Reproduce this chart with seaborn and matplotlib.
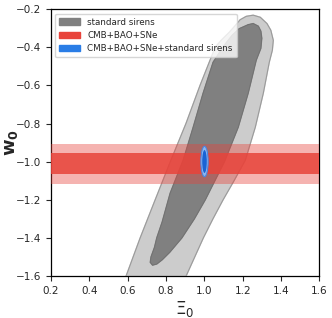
import numpy as np
import seaborn as sns
import matplotlib
matplotlib.use("Agg")
import matplotlib.pyplot as plt
from matplotlib.patches import Ellipse, Patch

# standard sirens contours (Xi0, w0)
ss_2sig_xi = [1.167, 1.187, 1.219, 1.255, 1.292, 1.327, 1.347, 1.360, 1.355, 1.339,
              1.308, 1.266, 1.214, 1.155, 1.098, 1.045, 0.995, 0.950, 0.905, 0.850,
              0.545, 0.592, 0.665, 0.743, 0.822, 0.905, 0.978, 1.057, 1.088, 1.130]
ss_2sig_w0 = [-0.279, -0.255, -0.237, -0.231, -0.242, -0.275, -0.310, -0.363, -0.415, -0.478,
              -0.640, -0.819, -0.992, -1.100, -1.200, -1.300, -1.400, -1.500, -1.600, -1.726,
              -1.726, -1.600, -1.401, -1.202, -1.002, -0.798, -0.599, -0.399, -0.363, -0.321]

ss_1sig_xi = [1.229, 1.255, 1.282, 1.295, 1.300, 1.295, 1.271, 1.229, 1.177, 1.105,
              1.055, 1.005, 0.948, 0.883, 0.820, 0.780, 0.752, 0.730, 0.718, 0.722, 0.740,
              0.752, 0.780, 0.822, 0.890, 0.942, 0.994, 1.046, 1.104, 1.146, 1.182]
ss_1sig_w0 = [-0.281, -0.275, -0.289, -0.315, -0.352, -0.405, -0.467, -0.640, -0.819, -1.000,
              -1.100, -1.200, -1.300, -1.400, -1.475, -1.515, -1.537, -1.543, -1.528, -1.500, -1.450,
              -1.400, -1.317, -1.165, -0.992, -0.819, -0.640, -0.478, -0.389, -0.336, -0.302]

# CMB+BAO+SNe bands on w0
cmb_1sig = [-1.062, -0.957]
cmb_2sig = [-1.116, -0.908]

# combined: centre and half-widths (Xi0, w0)
comb_center = [1.001, -0.999]
comb_1sig = [0.012, 0.060]
comb_2sig = [0.019, 0.080]

labels = ["standard sirens", "CMB+BAO+SNe", "CMB+BAO+SNe+standard sirens"]

sns.set_style("ticks")
plt.rcParams['font.family'] = ['DejaVu Sans']

fig = plt.figure(figsize=(3.32, 3.18), dpi=100)
ax = fig.add_axes([0.1536, 0.1321, 0.8081, 0.8387])

# grey banana
ax.fill(ss_2sig_xi, ss_2sig_w0, color="#cccccc", zorder=1)
ax.fill(ss_1sig_xi, ss_1sig_w0, color="#808080", zorder=2)
sns.lineplot(x=ss_2sig_xi + ss_2sig_xi[:1], y=ss_2sig_w0 + ss_2sig_w0[:1], sort=False,
             estimator=None, color="#9a9a9a", lw=0.8, ax=ax, zorder=3)
sns.lineplot(x=ss_1sig_xi + ss_1sig_xi[:1], y=ss_1sig_w0 + ss_1sig_w0[:1], sort=False,
             estimator=None, color="#707070", lw=0.6, ax=ax, zorder=3)

# red bands
red = "#e8433a"
ax.axhspan(cmb_2sig[0], cmb_2sig[1], color=red, alpha=0.4, lw=0, zorder=4)
ax.axhspan(cmb_1sig[0], cmb_1sig[1], color=red, alpha=0.85, lw=0, zorder=5)

# blue ellipse
ax.add_patch(Ellipse(comb_center, 2 * comb_2sig[0], 2 * comb_2sig[1],
                     facecolor="#8db5ef", edgecolor="#4a86e0", lw=0.8, zorder=6))
ax.add_patch(Ellipse(comb_center, 2 * comb_1sig[0], 2 * comb_1sig[1],
                     facecolor="#1a63d4", edgecolor="none", zorder=7))

ax.set_xlim(0.2, 1.6)
ax.set_ylim(-1.6, -0.2)
ax.set_xticks(np.arange(0.2, 1.61, 0.2))
ax.set_yticks(np.arange(-1.6, -0.19, 0.2))
ax.tick_params(labelsize=7.5, length=3.5, width=0.8, direction="out")
for s in ax.spines.values():
    s.set_color("black")
    s.set_linewidth(0.9)

ax.set_xlabel(r"$\Xi_0$", fontsize=12)
ax.set_ylabel(r"$\mathbf{w_0}$", fontsize=13)
ax.xaxis.set_label_coords(0.5, -0.085)
ax.yaxis.set_label_coords(-0.115, 0.5)

handles = [Patch(color="#808080"), Patch(color=red), Patch(color="#2a7de6")]
ax.legend(handles, labels, loc="upper left", fontsize=6.3, frameon=True, framealpha=0.8,
          edgecolor="#cccccc", fancybox=True, handlelength=2.4, borderpad=0.45,
          labelspacing=0.5, bbox_to_anchor=(0.0, 1.0))

fig.savefig("out.png", dpi=100)
